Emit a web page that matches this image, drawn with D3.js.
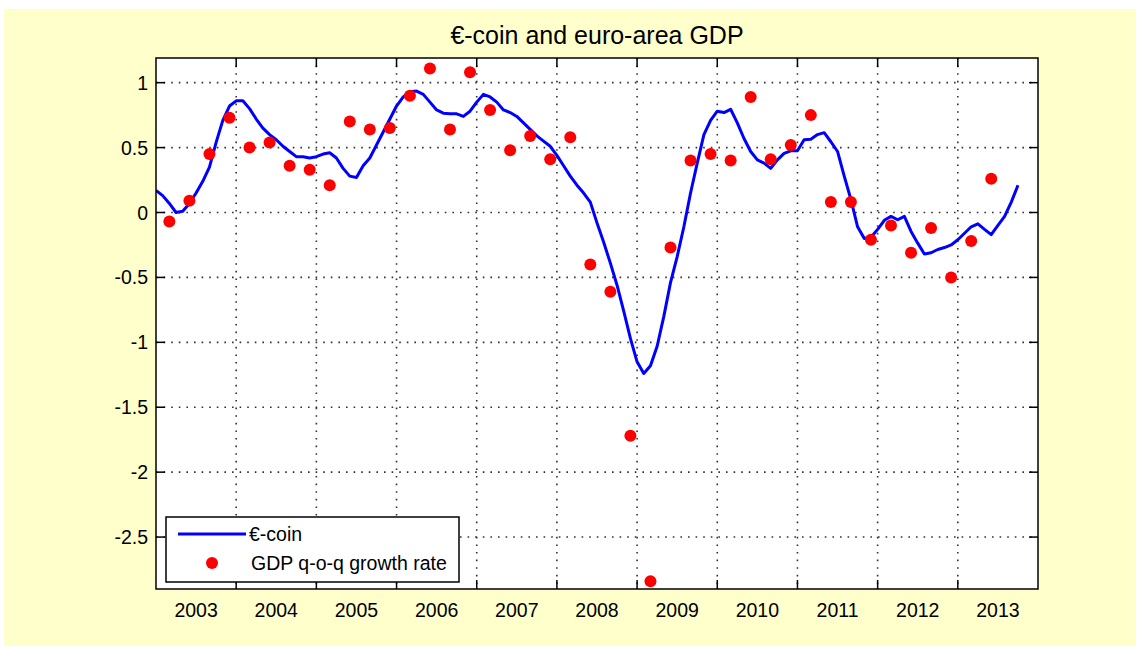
<!DOCTYPE html>
<html lang="en">

<head>
  <meta charset="UTF-8">
  <meta name="viewport" content="width=device-width, initial-scale=1.0">
  <title>€-coin and euro-area GDP</title>
  <script src="https://d3js.org/d3.v7.min.js"></script>
  <style>
    body {
      margin: 0;
      background: #fff;
    }

    svg {
      font-family: "Liberation Sans", Arial, sans-serif;
    }

    .grid line {
      stroke: #333;
      stroke-width: 1.6;
      stroke-dasharray: 1.6, 6;
    }

    .tick-mark {
      stroke: #000;
      stroke-width: 1.5;
    }
  </style>
</head>

<body>
  <svg id="chart"></svg>
  <script>
    const width = 1139;
    const height = 650;

    // plot box
    const plot = { left: 156, right: 1038, top: 58, bottom: 589 };

    // €-coin, monthly, first value = Dec 2002
    const coinStartYear = 2002;
    const coinStartMonth = 12;
    const coinValues = [
      0.17,
      0.13, 0.07, 0.00, 0.01, 0.07, 0.15, 0.24, 0.35, 0.54, 0.71, 0.82, 0.86,      // 2003
      0.86, 0.80, 0.72, 0.65, 0.60, 0.56, 0.51, 0.47, 0.43, 0.43, 0.42, 0.43,      // 2004
      0.45, 0.46, 0.42, 0.34, 0.28, 0.27, 0.36, 0.42, 0.52, 0.62, 0.72, 0.82,      // 2005
      0.89, 0.93, 0.935, 0.91, 0.85, 0.79, 0.765, 0.76, 0.76, 0.74, 0.78, 0.85,    // 2006
      0.91, 0.89, 0.85, 0.79, 0.77, 0.74, 0.69, 0.64, 0.59, 0.55, 0.51, 0.44,      // 2007
      0.36, 0.28, 0.21, 0.15, 0.08, -0.08, -0.23, -0.39, -0.56, -0.76, -0.97, -1.15, // 2008
      -1.24, -1.18, -1.03, -0.80, -0.54, -0.34, -0.11, 0.15, 0.38, 0.60, 0.71, 0.78, // 2009
      0.77, 0.795, 0.69, 0.57, 0.47, 0.405, 0.38, 0.34, 0.405, 0.455, 0.475, 0.475, // 2010
      0.56, 0.565, 0.60, 0.615, 0.545, 0.47, 0.28, 0.10, -0.11, -0.20, -0.19, -0.13, // 2011
      -0.06, -0.03, -0.056, -0.03, -0.146, -0.236, -0.32, -0.31, -0.285, -0.27, -0.25, -0.21, // 2012
      -0.16, -0.11, -0.087, -0.13, -0.17, -0.10, -0.03, 0.08, 0.21                 // 2013
    ];

    // GDP q-o-q growth rate
    const gdpQuarters = [
      "2003Q1", "2003Q2", "2003Q3", "2003Q4", "2004Q1", "2004Q2", "2004Q3", "2004Q4",
      "2005Q1", "2005Q2", "2005Q3", "2005Q4", "2006Q1", "2006Q2", "2006Q3", "2006Q4",
      "2007Q1", "2007Q2", "2007Q3", "2007Q4", "2008Q1", "2008Q2", "2008Q3", "2008Q4",
      "2009Q1", "2009Q2", "2009Q3", "2009Q4", "2010Q1", "2010Q2", "2010Q3", "2010Q4",
      "2011Q1", "2011Q2", "2011Q3", "2011Q4", "2012Q1", "2012Q2", "2012Q3", "2012Q4",
      "2013Q1", "2013Q2"
    ];
    const gdpValues = [
      -0.07, 0.09, 0.45, 0.73, 0.50, 0.54, 0.36, 0.33,
      0.21, 0.70, 0.64, 0.65, 0.90, 1.11, 0.64, 1.08,
      0.79, 0.48, 0.59, 0.41, 0.58, -0.40, -0.61, -1.72,
      -2.84, -0.27, 0.40, 0.45, 0.40, 0.89, 0.41, 0.52,
      0.75, 0.08, 0.08, -0.21, -0.10, -0.31, -0.12, -0.50,
      -0.22, 0.26
    ];

    const yTicks = [1, 0.5, 0, -0.5, -1, -1.5, -2, -2.5];
    const yearLabels = [2003, 2004, 2005, 2006, 2007, 2008, 2009, 2010, 2011, 2012, 2013];

    // time as decimal year (year + month/12)
    const coinData = coinValues.map((v, i) => {
      const m = coinStartMonth + i;
      return { t: coinStartYear + m / 12, v: v };
    });
    const gdpData = gdpQuarters.map((q, i) => {
      const year = +q.slice(0, 4);
      const quarter = +q.slice(5);
      return { t: year + (quarter * 3 - 1) / 12, v: gdpValues[i] };
    });

    const x = d3.scaleLinear().domain([2003, 2014]).range([plot.left, plot.right]);
    const y = d3.scaleLinear().domain([-2.9, 1.19]).range([plot.bottom, plot.top]);

    const svg = d3.select("#chart")
      .attr("width", width)
      .attr("height", height);

    // figure background
    svg.append("rect")
      .attr("x", 4).attr("y", 9)
      .attr("width", 1132).attr("height", 637)
      .attr("fill", "#ffffcc");

    // plot background
    svg.append("rect")
      .attr("x", plot.left).attr("y", plot.top)
      .attr("width", plot.right - plot.left).attr("height", plot.bottom - plot.top)
      .attr("fill", "#fff");

    // grid
    const grid = svg.append("g").attr("class", "grid");
    const yearTicks = yearLabels.slice(1);
    grid.selectAll(".gx")
      .data(yearTicks)
      .enter().append("line")
      .attr("x1", d => x(d)).attr("x2", d => x(d))
      .attr("y1", plot.top).attr("y2", plot.bottom);
    grid.selectAll(".gy")
      .data(yTicks)
      .enter().append("line")
      .attr("x1", plot.left).attr("x2", plot.right)
      .attr("y1", d => y(d)).attr("y2", d => y(d));

    svg.append("clipPath").attr("id", "clip")
      .append("rect")
      .attr("x", plot.left).attr("y", plot.top)
      .attr("width", plot.right - plot.left).attr("height", plot.bottom - plot.top);

    const data = svg.append("g").attr("clip-path", "url(#clip)");

    // €-coin line
    const line = d3.line()
      .x(d => x(d.t))
      .y(d => y(d.v));

    data.append("path")
      .datum(coinData)
      .attr("d", line)
      .attr("fill", "none")
      .attr("stroke", "#0000ff")
      .attr("stroke-width", 3)
      .attr("stroke-linejoin", "round");

    // GDP dots
    data.selectAll(".gdp")
      .data(gdpData)
      .enter().append("circle")
      .attr("cx", d => x(d.t))
      .attr("cy", d => y(d.v))
      .attr("r", 6)
      .attr("fill", "#ff0000");

    // ticks, inward on all four sides
    const tickLen = 9;
    const ticks = svg.append("g");
    yearTicks.forEach(d => {
      ticks.append("line").attr("class", "tick-mark")
        .attr("x1", x(d)).attr("x2", x(d))
        .attr("y1", plot.bottom).attr("y2", plot.bottom - tickLen);
      ticks.append("line").attr("class", "tick-mark")
        .attr("x1", x(d)).attr("x2", x(d))
        .attr("y1", plot.top).attr("y2", plot.top + tickLen);
    });
    yTicks.forEach(d => {
      ticks.append("line").attr("class", "tick-mark")
        .attr("x1", plot.left).attr("x2", plot.left + tickLen)
        .attr("y1", y(d)).attr("y2", y(d));
      ticks.append("line").attr("class", "tick-mark")
        .attr("x1", plot.right).attr("x2", plot.right - tickLen)
        .attr("y1", y(d)).attr("y2", y(d));
    });

    // frame
    svg.append("rect")
      .attr("x", plot.left).attr("y", plot.top)
      .attr("width", plot.right - plot.left).attr("height", plot.bottom - plot.top)
      .attr("fill", "none")
      .attr("stroke", "#000")
      .attr("stroke-width", 1.5);

    // y labels
    svg.selectAll(".ylab")
      .data(yTicks)
      .enter().append("text")
      .attr("x", plot.left - 8)
      .attr("y", d => y(d))
      .attr("dy", "0.36em")
      .attr("text-anchor", "end")
      .attr("font-size", 19.5)
      .attr("fill", "#000")
      .text(d => d);

    // year labels, centred in each year
    svg.selectAll(".xlab")
      .data(yearLabels)
      .enter().append("text")
      .attr("x", d => x(d + 0.5))
      .attr("y", 617)
      .attr("text-anchor", "middle")
      .attr("font-size", 19.5)
      .attr("fill", "#000")
      .text(d => d);

    // title
    svg.append("text")
      .attr("x", 597)
      .attr("y", 44)
      .attr("text-anchor", "middle")
      .attr("font-size", 25)
      .attr("fill", "#000")
      .text("€-coin and euro-area GDP");

    // legend
    const legend = svg.append("g");
    legend.append("rect")
      .attr("x", 166).attr("y", 517)
      .attr("width", 293).attr("height", 65)
      .attr("fill", "#fff")
      .attr("stroke", "#000")
      .attr("stroke-width", 1.5);
    legend.append("line")
      .attr("x1", 178).attr("x2", 246)
      .attr("y1", 534).attr("y2", 534)
      .attr("stroke", "#0000ff")
      .attr("stroke-width", 3);
    legend.append("text")
      .attr("x", 249).attr("y", 534)
      .attr("dy", "0.36em")
      .attr("font-size", 19.5)
      .text("€-coin");
    legend.append("circle")
      .attr("cx", 212).attr("cy", 563)
      .attr("r", 6)
      .attr("fill", "#ff0000");
    legend.append("text")
      .attr("x", 251).attr("y", 563)
      .attr("dy", "0.36em")
      .attr("font-size", 19.5)
      .text("GDP q-o-q growth rate");
  </script>
</body>

</html>
